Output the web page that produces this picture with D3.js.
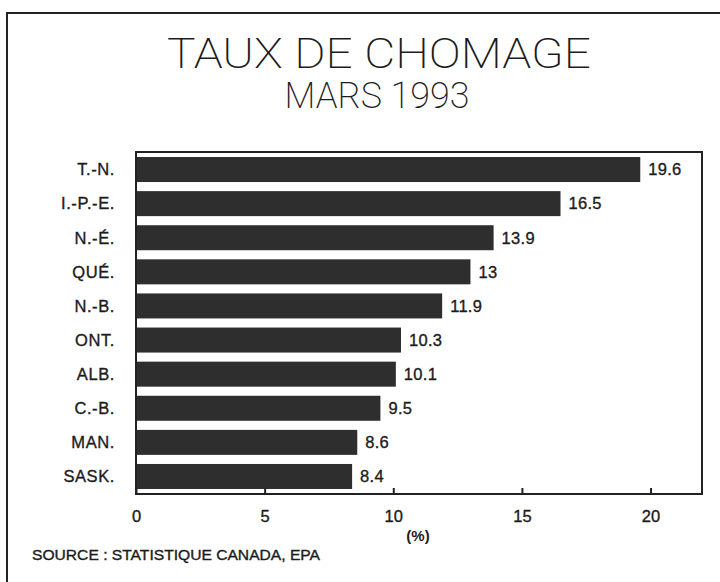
<!DOCTYPE html>
<html>
<head>
<meta charset="utf-8">
<script src="https://cdn.jsdelivr.net/npm/d3@7"></script>
<style>
  html, body { margin: 0; padding: 0; background: #fff; }
  svg { display: block; }
  text { font-family: "Liberation Sans", Arial, sans-serif; fill: #1c1c1c; }
  .title { font-family: Roboto, "Liberation Sans", sans-serif; font-weight: 200; }
  .lbl { stroke: #1c1c1c; stroke-width: 0.35; }
</style>
</head>
<body>
<script>
// Taux de chômage par province, mars 1993 (%)
const provinces = ['T.-N.', 'I.-P.-E.', 'N.-É.', 'QUÉ.', 'N.-B.', 'ONT.', 'ALB.', 'C.-B.', 'MAN.', 'SASK.']
const taux = [19.6, 16.5, 13.9, 13, 11.9, 10.3, 10.1, 9.5, 8.6, 8.4]
const ticks = [0, 5, 10, 15, 20]

const data = provinces.map((p, i) => ({ p, v: taux[i] }))

const W = 720, H = 582
const svg = d3.select('body').append('svg').attr('width', W).attr('height', H)

// cadre extérieur (ouvert à droite et en bas)
svg.append('path')
  .attr('d', `M720,13 H7 V${H}`)
  .attr('fill', 'none')
  .attr('stroke', '#222')
  .attr('stroke-width', 2)

svg.append('text')
  .attr('class', 'title')
  .attr('x', 379).attr('y', 68)
  .attr('text-anchor', 'middle')
  .attr('font-size', 42)
  .attr('textLength', 424)
  .attr('lengthAdjust', 'spacingAndGlyphs')
  .text('TAUX DE CHOMAGE')

svg.append('text')
  .attr('class', 'title')
  .attr('x', 377).attr('y', 108)
  .attr('text-anchor', 'middle')
  .attr('font-size', 36)
  .attr('textLength', 185)
  .attr('lengthAdjust', 'spacingAndGlyphs')
  .text('MARS 1993')

const x = d3.scaleLinear().domain([0, 22]).range([136, 702])
const y = d3.scaleBand().domain(provinces).range([152, 494])
  .paddingInner(0.267).paddingOuter(0.147)

// bars
svg.append('g')
  .selectAll('rect')
  .data(data)
  .join('rect')
  .attr('x', x(0))
  .attr('y', d => y(d.p))
  .attr('width', d => x(d.v) - x(0))
  .attr('height', y.bandwidth())
  .attr('fill', '#2e2e2e')

// value labels
svg.append('g')
  .selectAll('text')
  .data(data)
  .join('text')
  .attr('class', 'lbl')
  .attr('x', d => x(d.v) + 8)
  .attr('y', d => y(d.p) + y.bandwidth() / 2)
  .attr('dy', '0.35em')
  .attr('font-size', 16.5)
  .attr('letter-spacing', 0.3)
  .text(d => String(d.v))

// category labels
svg.append('g')
  .selectAll('text')
  .data(data)
  .join('text')
  .attr('class', 'lbl')
  .attr('x', 115)
  .attr('y', d => y(d.p) + y.bandwidth() / 2)
  .attr('dy', '0.35em')
  .attr('text-anchor', 'end')
  .attr('font-size', 16.5)
  .attr('letter-spacing', 0.6)
  .text(d => d.p)

// cadre du graphique
svg.append('rect')
  .attr('x', 136).attr('y', 152)
  .attr('width', 702 - 136).attr('height', 494 - 152)
  .attr('fill', 'none')
  .attr('stroke', '#222')
  .attr('stroke-width', 2)

// x axis: ticks inside
const xAxis = svg.append('g')
  .attr('transform', 'translate(0,494)')
  .call(d3.axisBottom(x).tickValues(ticks).tickSizeInner(-6).tickSizeOuter(0).tickPadding(16))
xAxis.select('.domain').remove()
xAxis.selectAll('line').attr('stroke', '#222').attr('stroke-width', 2)
xAxis.selectAll('text')
  .attr('class', 'lbl')
  .attr('font-size', 16.5)
  .attr('font-family', '"Liberation Sans", Arial, sans-serif')
  .attr('fill', '#1c1c1c')

svg.append('text')
  .attr('x', 418).attr('y', 541)
  .attr('text-anchor', 'middle')
  .attr('font-size', 15)
  .attr('font-weight', 'bold')
  .text('(%)')

svg.append('text')
  .attr('class', 'lbl')
  .attr('x', 32).attr('y', 560)
  .attr('font-size', 14)
  .attr('textLength', 288)
  .attr('lengthAdjust', 'spacingAndGlyphs')
  .text('SOURCE : STATISTIQUE CANADA, EPA')
</script>
</body>
</html>
